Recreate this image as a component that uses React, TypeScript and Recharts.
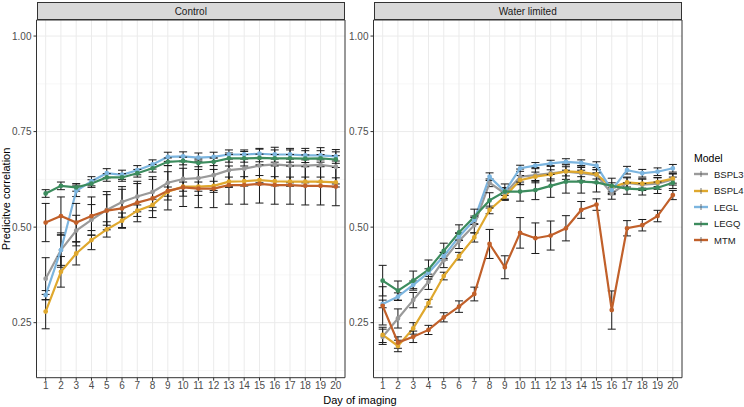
import {
  CartesianGrid,
  ErrorBar,
  Line,
  LineChart,
  ReferenceArea,
  XAxis,
  YAxis,
} from 'recharts'

const days = [1, 2, 3, 4, 5, 6, 7, 8, 9, 10, 11, 12, 13, 14, 15, 16, 17, 18, 19, 20]
const yTicks = [0.25, 0.5, 0.75, 1.0]
const yMinor = [0.125, 0.375, 0.625, 0.875]

// Control
const ctlBspl3 = [0.365, 0.44, 0.491, 0.519, 0.545, 0.566, 0.58, 0.592, 0.616, 0.626, 0.628, 0.636, 0.649, 0.653, 0.661, 0.664, 0.661, 0.661, 0.663, 0.658]
const ctlBspl4 = [0.279, 0.383, 0.431, 0.466, 0.494, 0.517, 0.543, 0.558, 0.593, 0.606, 0.606, 0.608, 0.619, 0.62, 0.623, 0.62, 0.619, 0.619, 0.619, 0.617]
const ctlLegl = [0.322, 0.44, 0.595, 0.62, 0.641, 0.637, 0.649, 0.664, 0.684, 0.685, 0.682, 0.684, 0.69, 0.69, 0.692, 0.69, 0.69, 0.688, 0.688, 0.685]
const ctlLegq = [0.588, 0.608, 0.604, 0.614, 0.63, 0.63, 0.641, 0.654, 0.671, 0.673, 0.668, 0.671, 0.68, 0.68, 0.681, 0.68, 0.68, 0.679, 0.68, 0.677]
const ctlMtm = [0.512, 0.529, 0.512, 0.529, 0.543, 0.549, 0.564, 0.575, 0.595, 0.604, 0.601, 0.601, 0.61, 0.61, 0.613, 0.61, 0.61, 0.608, 0.608, 0.606]

const ctlBspl3Err = [0.055, 0.045, 0.04, 0.04, 0.04, 0.04, 0.04, 0.04, 0.045, 0.045, 0.045, 0.045, 0.045, 0.045, 0.045, 0.045, 0.045, 0.045, 0.045, 0.045]
const ctlBspl4Err = [0.045, 0.04, 0.03, 0.025, 0.02, 0.02, 0.015, 0.015, 0.012, 0.012, 0.012, 0.012, 0.012, 0.012, 0.012, 0.012, 0.012, 0.012, 0.012, 0.012]
const ctlLeglErr = [0.012, 0.04, 0.015, 0.012, 0.012, 0.012, 0.012, 0.012, 0.012, 0.012, 0.012, 0.012, 0.012, 0.012, 0.012, 0.012, 0.012, 0.012, 0.012, 0.012]
const ctlLegqErr = [0.01, 0.01, 0.01, 0.01, 0.01, 0.01, 0.01, 0.01, 0.01, 0.01, 0.01, 0.01, 0.01, 0.01, 0.01, 0.01, 0.01, 0.01, 0.01, 0.01]
const ctlMtmErr = [0.05, 0.05, 0.05, 0.05, 0.05, 0.05, 0.05, 0.05, 0.05, 0.05, 0.05, 0.05, 0.05, 0.05, 0.05, 0.05, 0.05, 0.05, 0.05, 0.05]

// Water limited
const wlBspl3 = [0.213, 0.261, 0.309, 0.357, 0.414, 0.464, 0.505, 0.616, 0.588, 0.632, 0.636, 0.641, 0.645, 0.641, 0.636, 0.588, 0.616, 0.611, 0.614, 0.625]
const wlBspl4 = [0.218, 0.189, 0.235, 0.301, 0.372, 0.424, 0.473, 0.545, 0.58, 0.623, 0.632, 0.638, 0.646, 0.644, 0.638, 0.604, 0.617, 0.614, 0.618, 0.627]
const wlLegl = [0.299, 0.318, 0.349, 0.381, 0.424, 0.475, 0.519, 0.632, 0.593, 0.654, 0.661, 0.667, 0.671, 0.668, 0.661, 0.597, 0.649, 0.641, 0.645, 0.654]
const wlLegq = [0.36, 0.334, 0.36, 0.389, 0.438, 0.486, 0.527, 0.57, 0.593, 0.593, 0.597, 0.608, 0.619, 0.619, 0.617, 0.608, 0.601, 0.599, 0.603, 0.616]
const wlMtm = [0.294, 0.198, 0.213, 0.231, 0.264, 0.292, 0.325, 0.456, 0.395, 0.485, 0.471, 0.478, 0.497, 0.545, 0.559, 0.283, 0.497, 0.505, 0.529, 0.584]

const wlBspl3Err = [0.02, 0.025, 0.02, 0.02, 0.02, 0.02, 0.02, 0.01, 0.015, 0.02, 0.02, 0.02, 0.02, 0.02, 0.02, 0.015, 0.015, 0.015, 0.015, 0.015]
const wlBspl4Err = [0.02, 0.015, 0.015, 0.01, 0.01, 0.01, 0.012, 0.01, 0.01, 0.012, 0.012, 0.012, 0.012, 0.012, 0.012, 0.012, 0.012, 0.012, 0.012, 0.012]
const wlLeglErr = [0.01, 0.01, 0.01, 0.01, 0.01, 0.01, 0.01, 0.01, 0.01, 0.008, 0.008, 0.008, 0.008, 0.008, 0.01, 0.012, 0.01, 0.01, 0.01, 0.01]
const wlLegqErr = [0.04, 0.025, 0.025, 0.025, 0.02, 0.02, 0.02, 0.02, 0.02, 0.025, 0.025, 0.03, 0.03, 0.03, 0.025, 0.02, 0.015, 0.015, 0.015, 0.015]
const wlMtmErr = [0.05, 0.015, 0.015, 0.012, 0.012, 0.015, 0.018, 0.038, 0.03, 0.04, 0.04, 0.038, 0.033, 0.022, 0.015, 0.05, 0.02, 0.015, 0.015, 0.012]

const Y_MIN = 0.106
const Y_MAX = 1.042

const models = [
  { key: 'bspl3', name: 'BSPL3', color: '#9a9a9a' },
  { key: 'bspl4', name: 'BSPL4', color: '#dfa82e' },
  { key: 'legl', name: 'LEGL', color: '#7cb5df' },
  { key: 'legq', name: 'LEGQ', color: '#3c8c5e' },
  { key: 'mtm', name: 'MTM', color: '#c1602a' },
]

function buildRows(series: number[][], errs: number[][]) {
  return days.map((day, i) => {
    const row: Record<string, number> = { day }
    models.forEach((m, j) => {
      row[m.key] = series[j][i]
      row[m.key + 'Err'] = errs[j][i]
    })
    return row
  })
}

const controlRows = buildRows(
  [ctlBspl3, ctlBspl4, ctlLegl, ctlLegq, ctlMtm],
  [ctlBspl3Err, ctlBspl4Err, ctlLeglErr, ctlLegqErr, ctlMtmErr],
)
const waterRows = buildRows(
  [wlBspl3, wlBspl4, wlLegl, wlLegq, wlMtm],
  [wlBspl3Err, wlBspl4Err, wlLeglErr, wlLegqErr, wlMtmErr],
)

const FONT = '"Liberation Sans", Arial, sans-serif'
const tickStyle = { fontSize: 10, fill: '#4d4d4d', fontFamily: FONT }

function Panel({ rows, title, left }: { rows: Record<string, number>[]; title: string; left: number }) {
  return (
    <div style={{ position: 'absolute', left, top: 0, width: 348, height: 407 }}>
      <div
        style={{
          position: 'absolute',
          left: 36.5,
          top: 2,
          width: 308.5,
          height: 18,
          boxSizing: 'border-box',
          background: '#d9d9d9',
          border: '1px solid #333',
          fontFamily: FONT,
          fontSize: 10,
          color: '#1a1a1a',
          textAlign: 'center',
          lineHeight: '17px',
        }}
      >
        {title}
      </div>
      <LineChart width={348} height={407} data={rows} margin={{ top: 20, right: 3, bottom: 0, left: 0 }}>
        <CartesianGrid stroke="#f2f2f2" strokeWidth={0.6} vertical={false} horizontalValues={yMinor} />
        <CartesianGrid stroke="#ebebeb" strokeWidth={1} horizontalValues={yTicks} verticalValues={days} />
        <XAxis
          dataKey="day"
          type="number"
          domain={[0.4, 20.6]}
          ticks={days}
          interval={0}
          allowDataOverflow
          height={29.3}
          tick={tickStyle}
          tickSize={3}
          tickMargin={1}
          tickLine={{ stroke: '#333' }}
          axisLine={false}
        />
        <YAxis
          type="number"
          domain={[Y_MIN, Y_MAX]}
          ticks={yTicks}
          allowDataOverflow
          width={36.5}
          tick={tickStyle}
          tickSize={3}
          tickMargin={2}
          tickLine={{ stroke: '#333' }}
          axisLine={false}
          tickFormatter={(v) => Number(v).toFixed(2)}
        />
        {models.map((m) => (
          <Line
            key={m.key}
            dataKey={m.key}
            stroke={m.color}
            strokeWidth={2.2}
            dot={{ r: 1.3, fill: m.color, stroke: m.color }}
            isAnimationActive={false}
          >
            <ErrorBar dataKey={m.key + 'Err'} direction="y" width={4} stroke="#1a1a1a" strokeWidth={1} />
          </Line>
        ))}
        <ReferenceArea x1={0.4} x2={20.6} y1={Y_MIN} y2={Y_MAX} fill="none" stroke="#333" strokeWidth={1} ifOverflow="visible" />
      </LineChart>
    </div>
  )
}

export default function App() {
  return (
    <div style={{ position: 'absolute', left: 0, top: 0, width: 744, height: 407, background: '#fff', fontFamily: FONT }}>
      <Panel rows={controlRows} title="Control" left={0} />
      <Panel rows={waterRows} title="Water  limited" left={337} />
      <div
        style={{
          position: 'absolute',
          left: 6,
          top: 199,
          transform: 'translate(-50%, -50%) rotate(-90deg)',
          whiteSpace: 'nowrap',
          fontSize: 11,
          color: '#000',
        }}
      >
        Predicitve correlation
      </div>
      <div
        style={{
          position: 'absolute',
          left: 360,
          top: 400,
          transform: 'translate(-50%, -50%)',
          whiteSpace: 'nowrap',
          fontSize: 11,
          lineHeight: '12px',
          color: '#000',
        }}
      >
        Day of imaging
      </div>
      <div style={{ position: 'absolute', left: 694, top: 150, fontSize: 10.5, color: '#000' }}>
        <div style={{ height: 16, lineHeight: '16px' }}>Model</div>
        {models.map((m) => (
          <div key={m.key} style={{ display: 'flex', alignItems: 'center', height: 16.5 }}>
            <svg width={14} height={12} style={{ marginRight: 6 }}>
              <line x1={0} y1={6} x2={14} y2={6} stroke={m.color} strokeWidth={2.4} />
              <line x1={7} y1={3} x2={7} y2={9} stroke="#555" strokeWidth={0.8} />
            </svg>
            <span style={{ fontSize: 9.5, color: '#1a1a1a' }}>{m.name}</span>
          </div>
        ))}
      </div>
    </div>
  )
}
